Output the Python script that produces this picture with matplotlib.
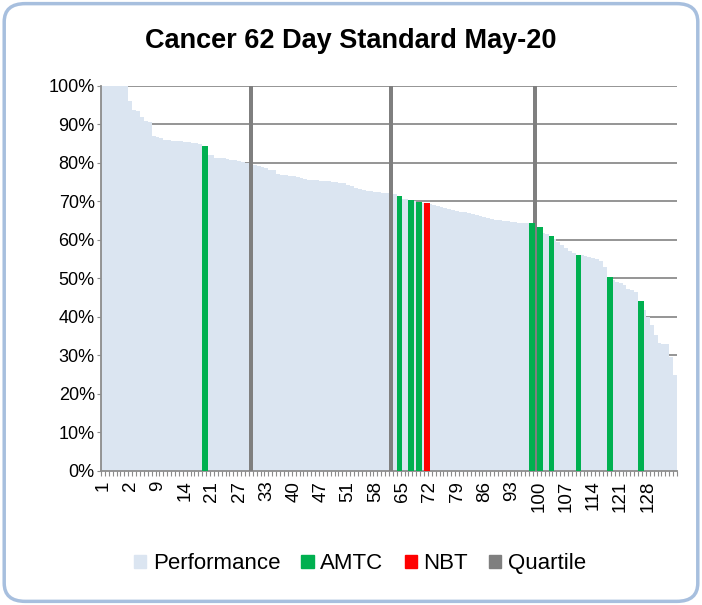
import numpy as np
import matplotlib
matplotlib.use('Agg')
import matplotlib.pyplot as plt
import matplotlib.patches as mpatches
from matplotlib.patches import FancyBboxPatch
from matplotlib.ticker import FixedLocator, PercentFormatter

plt.rcParams['font.family'] = ['Liberation Sans', 'DejaVu Sans']

# 数据 (从图中读取, 百分比)
performance = [
    100, 100, 100, 100, 100, 100, 100,
    96.1, 93.7, 93.6, 92.0, 90.9, 90.6,
    87.0, 86.8, 86.6, 86.0, 85.9, 85.8, 85.7,
    85.6, 85.5, 85.4, 85.3, 85.1, 84.9, 84.5,
    82.2, 82.0, 81.4, 81.3, 81.2, 81.0,
    80.8, 80.7, 80.6, 80.3, 80.1, 80.0,
    79.5, 79.2, 78.9, 78.6, 78.3, 78.1,
    77.2, 77.0, 76.9, 76.7, 76.5, 76.3, 76.1, 75.9, 75.7,
    75.6, 75.5, 75.4, 75.3, 75.2, 75.1, 75.0, 74.9, 74.7,
    74.2, 73.9, 73.6, 73.3, 73.0,
    72.7, 72.6, 72.5, 72.4, 72.3, 72.2, 72.1,
    72.0, 71.5, 70.7, 70.6, 70.5, 70.1, 69.8, 69.7, 69.6,
    69.4, 69.2, 68.9, 68.6, 68.3, 68.0, 67.7,
    67.4, 67.3, 67.2, 67.0,
    66.8, 66.5, 66.3, 66.0, 65.8, 65.5, 65.3, 65.1,
    64.9, 64.8, 64.7, 64.6, 64.5, 64.5, 64.4,
    64.3, 63.8, 63.4, 61.7, 61.5, 61.1, 60.3,
    59.4, 58.7, 58.0, 57.2, 56.5, 56.2,
    56.0, 55.8, 55.6, 55.3, 55.0, 54.6, 52.9, 50.5,
    49.6, 49.2, 48.8, 48.3, 47.3, 46.9, 46.5, 44.1,
    41.7, 40.0, 37.8, 35.2, 33.3, 32.9, 32.9, 29.6, 24.9,
]
amtc_pos = [26, 76, 79, 81, 110, 112, 115, 122, 130, 138]
amtc_val = [84.5, 71.5, 70.5, 69.8, 64.3, 63.4, 61.1, 56.2, 50.5, 44.1]
nbt_pos = [83]
nbt_val = [69.6]
quartile_pos = [38, 74, 111]
rank_labels = [1, 2, 9, 14, 21, 27, 33, 40, 47, 51, 58, 65, 72, 79, 86,
               93, 100, 107, 114, 121, 128]

perf_color = '#DBE5F1'
amtc_color = '#00B050'
nbt_color = '#FF0000'
quart_color = '#7F7F7F'

n = len(performance)
x = np.arange(n)

fig = plt.figure(figsize=(7.02, 6.05), dpi=100)
ax = fig.add_axes([0.1439, 0.2215, 0.8205, 0.6364])

# 条形
ax.bar(x, performance, width=1.0, align='edge', color=perf_color, zorder=2)
ax.bar(quartile_pos, [100] * len(quartile_pos), width=1.1, align='edge',
       color=quart_color, zorder=3)
ax.bar(amtc_pos, amtc_val, width=1.45, align='edge', color=amtc_color, zorder=4)
ax.bar(nbt_pos, nbt_val, width=1.45, align='edge', color=nbt_color, zorder=4)

ax.set_xlim(0, n)
ax.set_ylim(0, 100)
ax.set_yticks(np.arange(0, 101, 10))
ax.yaxis.set_major_formatter(PercentFormatter(decimals=0))
ax.grid(axis='y', color='#8C8C8C', linewidth=1.3, zorder=0)
ax.set_axisbelow(True)

# x轴: 每7个类别一个标签, 每个类别边界一个刻度
label_pos = [i * 7 + 0.5 for i in range(len(rank_labels))]
ax.set_xticks(label_pos)
ax.set_xticklabels([str(r) for r in rank_labels], rotation=90, fontsize=13.5)
ax.tick_params(axis='x', which='major', length=0, pad=7)
ax.xaxis.set_minor_locator(FixedLocator(np.arange(0, n + 1)))
ax.tick_params(axis='x', which='minor', length=3.5, color='#8C8C8C', width=0.8)
ax.tick_params(axis='y', length=3, color='#8C8C8C', labelsize=13, pad=1.5)

for s in ['top', 'right']:
    ax.spines[s].set_visible(False)
for s in ['left', 'bottom']:
    ax.spines[s].set_color('#8C8C8C')
    ax.spines[s].set_linewidth(1.3)

fig.text(0.5, 0.933, 'Cancer 62 Day Standard May-20', ha='center', va='center',
         fontsize=19.5, fontweight='bold')

handles = [
    mpatches.Patch(color=perf_color, label='Performance'),
    mpatches.Patch(color=amtc_color, label='AMTC'),
    mpatches.Patch(color=nbt_color, label='NBT'),
    mpatches.Patch(color=quart_color, label='Quartile'),
]
fig.legend(handles=handles, loc='center', bbox_to_anchor=(0.513, 0.068), ncol=4,
           frameon=False, fontsize=16, handlelength=0.55, handleheight=0.55,
           handletextpad=0.3, columnspacing=0.95)

# 圆角边框
border = FancyBboxPatch((0.006, 0.006), 0.988, 0.988,
                        boxstyle='round,pad=0,rounding_size=0.03',
                        transform=fig.transFigure, facecolor='none',
                        edgecolor='#A7BFDE', linewidth=2.5)
fig.patches.append(border)

fig.savefig('out.png', dpi=100)
